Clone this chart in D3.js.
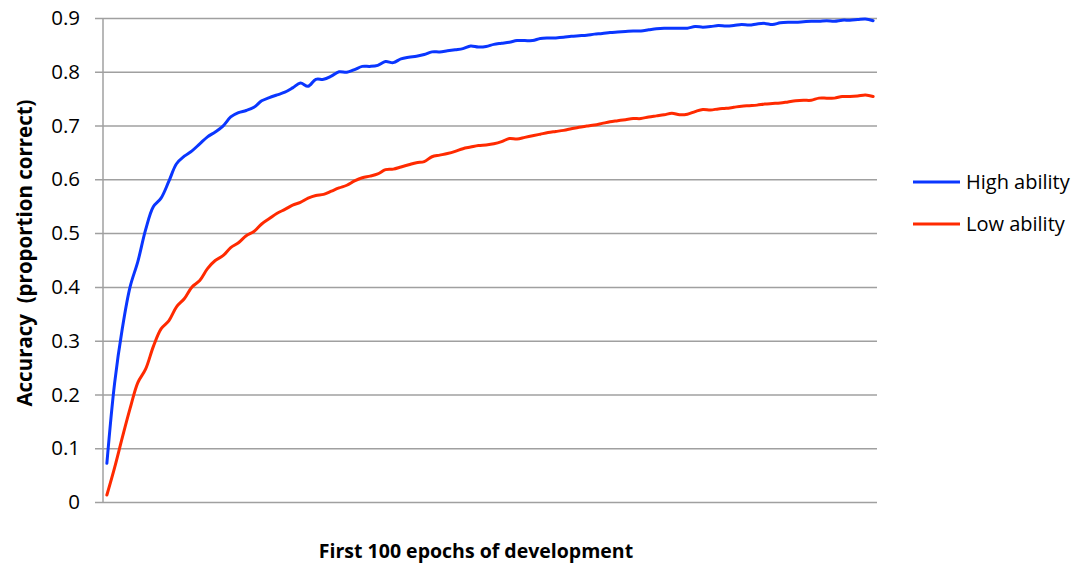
<!DOCTYPE html>
<html>
<head>
<meta charset="utf-8">
<script src="https://cdnjs.cloudflare.com/ajax/libs/d3/7.8.5/d3.min.js"></script>
<style>
  body { margin: 0; background: #fff; }
  text { font-family: "Open Sans", sans-serif; fill: #000; }
</style>
</head>
<body>
<script>
// epochs 1..100 on the category axis
const epochs = d3.range(1, 101);

const highAbility = [
  0.072, 0.221, 0.323, 0.400, 0.447, 0.506, 0.549, 0.565, 0.596, 0.629,
  0.643, 0.653, 0.666, 0.679, 0.688, 0.699, 0.716, 0.724, 0.728, 0.734,
  0.746, 0.752, 0.757, 0.762, 0.770, 0.779, 0.773, 0.786, 0.786, 0.792,
  0.800, 0.799, 0.804, 0.810, 0.810, 0.812, 0.819, 0.817, 0.824, 0.827,
  0.829, 0.832, 0.837, 0.837, 0.839, 0.841, 0.843, 0.848, 0.846, 0.847,
  0.851, 0.853, 0.855, 0.858, 0.858, 0.858, 0.862, 0.863, 0.863, 0.864,
  0.866, 0.867, 0.868, 0.870, 0.871, 0.873, 0.874, 0.875, 0.876, 0.876,
  0.878, 0.880, 0.881, 0.881, 0.881, 0.881, 0.884, 0.883, 0.884, 0.886,
  0.885, 0.886, 0.888, 0.887, 0.889, 0.890, 0.888, 0.891, 0.892, 0.892,
  0.893, 0.894, 0.894, 0.895, 0.894, 0.896, 0.896, 0.897, 0.898, 0.895
];

const lowAbility = [
  0.013, 0.064, 0.120, 0.174, 0.222, 0.247, 0.289, 0.322, 0.337, 0.363,
  0.378, 0.400, 0.412, 0.434, 0.449, 0.458, 0.473, 0.482, 0.495, 0.503,
  0.517, 0.527, 0.537, 0.544, 0.552, 0.557, 0.565, 0.570, 0.572, 0.578,
  0.584, 0.589, 0.597, 0.603, 0.606, 0.610, 0.618, 0.619, 0.623, 0.627,
  0.631, 0.633, 0.642, 0.645, 0.648, 0.652, 0.657, 0.660, 0.663, 0.664,
  0.666, 0.670, 0.676, 0.675, 0.678, 0.681, 0.684, 0.687, 0.689, 0.691,
  0.694, 0.697, 0.699, 0.701, 0.704, 0.707, 0.709, 0.711, 0.713, 0.713,
  0.716, 0.718, 0.720, 0.723, 0.720, 0.721, 0.726, 0.730, 0.729, 0.731,
  0.732, 0.734, 0.736, 0.737, 0.738, 0.740, 0.741, 0.742, 0.744, 0.746,
  0.747, 0.747, 0.751, 0.751, 0.751, 0.754, 0.754, 0.755, 0.757, 0.754
];

const yTicks = [0, 0.1, 0.2, 0.3, 0.4, 0.5, 0.6, 0.7, 0.8, 0.9];

const series = [
  {name: "High ability", values: highAbility, color: "#0a36ff"},
  {name: "Low ability",  values: lowAbility,  color: "#ff2a00"}
];

let margin = {top: 18, right: 201, bottom: 63, left: 103},
    width = 1078 - margin.left - margin.right,
    height = 565 - margin.top - margin.bottom;

let svg = d3.select("body")
            .append("svg")
            .attr("width", width + margin.left + margin.right)
            .attr("height", height + margin.top + margin.bottom);

let g = svg.append("g")
           .attr("transform", `translate(${margin.left}, ${margin.top})`);

let xScale = d3.scalePoint()
               .domain(epochs)
               .range([0, width])
               .padding(0.5);

let yScale = d3.scaleLinear()
               .domain([0, 0.9])
               .range([height, 0]);

// gridlines + tick labels
const yAxis = d3.axisLeft(yScale)
                .tickValues(yTicks)
                .tickSize(-width - 8)
                .tickPadding(16)
                .tickFormat(d => d === 0 ? "0" : d3.format(".1f")(d));

g.append("g")
    .attr("transform", "translate(-8,0)")
    .call(yAxis)
    .call(a => a.select(".domain").remove())
    .call(a => a.selectAll(".tick line")
                .attr("x1", 0)
                .attr("x2", width + 8)
                .attr("stroke", "#a0a0a0")
                .attr("stroke-width", 1.5))
    .call(a => a.selectAll(".tick text")
                .attr("x", -15)
                .style("font-family", "'Open Sans', sans-serif")
                .style("font-size", "20.5px")
                .attr("fill", "#000"));

// vertical axis line
g.append("line")
    .attr("x1", 0).attr("x2", 0)
    .attr("y1", 0).attr("y2", height)
    .attr("stroke", "#a0a0a0")
    .attr("stroke-width", 1.5);

// the lines
const line = d3.line()
               .x((d, i) => xScale(epochs[i]))
               .y(d => yScale(d))
               .curve(d3.curveCatmullRom.alpha(0.5));

g.selectAll(".series")
    .data(series)
    .enter()
    .append("path")
        .attr("class", "series")
        .attr("fill", "none")
        .attr("stroke", d => d.color)
        .attr("stroke-width", 3)
        .attr("stroke-linecap", "round")
        .attr("d", d => line(d.values));

// legend
let legend = svg.append("g")
                .attr("transform", "translate(913, 182)");

let item = legend.selectAll(".item")
    .data(series)
    .enter()
    .append("g")
        .attr("transform", (d, i) => `translate(0, ${i * 42})`);

item.append("line")
    .attr("x1", 0).attr("x2", 47)
    .attr("stroke", d => d.color)
    .attr("stroke-width", 3);

item.append("text")
    .attr("x", 53)
    .attr("dy", "0.35em")
    .style("font-size", "20px")
    .text(d => d.name);

// axis titles
svg.append("text")
    .attr("x", 476)
    .attr("y", 558)
    .attr("text-anchor", "middle")
    .style("font-size", "19.5px")
    .style("font-weight", "bold")
    .text("First 100 epochs of development");

svg.append("text")
    .attr("transform", "translate(32, 253) rotate(-90)")
    .attr("text-anchor", "middle")
    .style("font-size", "20.5px")
    .style("font-weight", "bold")
    .attr("xml:space", "preserve")
    .style("white-space", "pre")
    .text("Accuracy  (proportion correct)");
</script>
</body>
</html>
